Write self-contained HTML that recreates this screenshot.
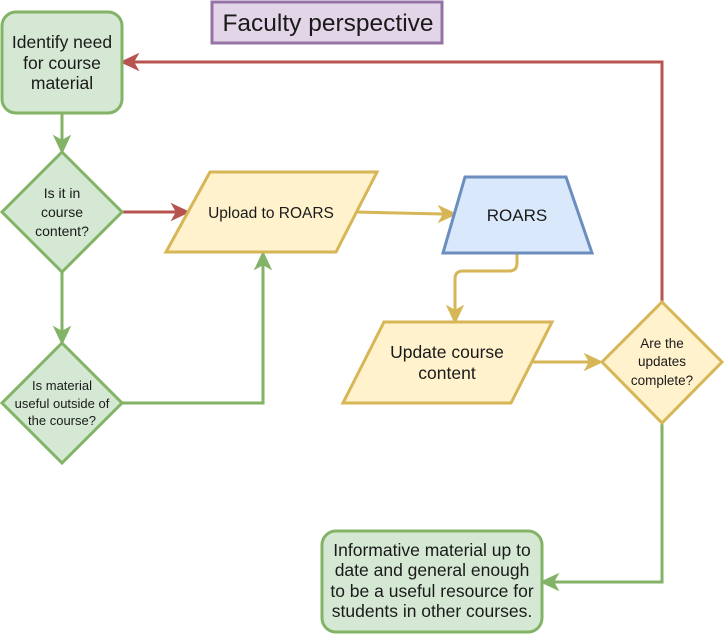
<!DOCTYPE html>
<html><head><style>body{margin:0;background:#fff}svg{display:block}text{font-family:"Liberation Sans",Arial,sans-serif;fill:#1a1a1a}</style></head>
<body>
<svg width="724" height="634" viewBox="0 0 724 634" xmlns="http://www.w3.org/2000/svg">
<g stroke-width="3" fill="none" stroke-linejoin="miter">
<path d="M62,113 V140" stroke="#82b366"/>
<path d="M62,272 V331" stroke="#82b366"/>
<path d="M122,403 H263 V265" stroke="#82b366"/>
<path d="M662,423 V582 H554" stroke="#82b366"/>
<path d="M122,212 H176" stroke="#b85450"/>
<path d="M662,302 V62 H134" stroke="#b85450"/>
<path d="M356,212 L443,214" stroke="#d6b656"/>
<path d="M517,253 V263 Q517,271 509,271 H463 Q455,271 455,279 V310" stroke="#d6b656"/>
<path d="M531,362 H589" stroke="#d6b656"/>
</g>
<g>
<path d="M62,152 L55,137 L62,141 L69,137 Z" fill="#82b366" stroke="#82b366" stroke-width="2"/>
<path d="M62,343 L55,328 L62,332 L69,328 Z" fill="#82b366" stroke="#82b366" stroke-width="2"/>
<path d="M263,253 L256,268 L263,264 L270,268 Z" fill="#82b366" stroke="#82b366" stroke-width="2"/>
<path d="M542,582 L557,575 L553,582 L557,589 Z" fill="#82b366" stroke="#82b366" stroke-width="2"/>
<path d="M188,212 L173,205 L177,212 L173,219 Z" fill="#b85450" stroke="#b85450" stroke-width="2"/>
<path d="M122,62 L137,55 L133,62 L137,69 Z" fill="#b85450" stroke="#b85450" stroke-width="2"/>
<path d="M455,214 L440,207 L444,214 L440,221 Z" fill="#d6b656" stroke="#d6b656" stroke-width="2"/>
<path d="M455,322 L448,307 L455,311 L462,307 Z" fill="#d6b656" stroke="#d6b656" stroke-width="2"/>
<path d="M601,362 L586,355 L590,362 L586,369 Z" fill="#d6b656" stroke="#d6b656" stroke-width="2"/>
</g>
<rect x="212" y="2" width="230" height="41" fill="#e1d5e7" stroke="#9673a6" stroke-width="3"/>
<text x="328" y="31" font-size="24.5" text-anchor="middle">Faculty perspective</text>

<rect x="2" y="12" width="120" height="101" rx="14" fill="#d5e8d4" stroke="#82b366" stroke-width="3"/>
<text font-size="17.5" text-anchor="middle"><tspan x="62" y="48">Identify need</tspan><tspan x="62" y="69">for course</tspan><tspan x="62" y="89">material</tspan></text>

<path d="M62,152 L122,212 L62,272 L2,212 Z" fill="#d5e8d4" stroke="#82b366" stroke-width="3"/>
<text font-size="14" text-anchor="middle"><tspan x="62" y="198">Is it in</tspan><tspan x="62" y="217">course</tspan><tspan x="62" y="236">content?</tspan></text>

<path d="M62,343 L122,403 L62,463 L2,403 Z" fill="#d5e8d4" stroke="#82b366" stroke-width="3"/>
<text font-size="13" text-anchor="middle"><tspan x="62" y="390">Is material</tspan><tspan x="62" y="408">useful outside of</tspan><tspan x="62" y="425">the course?</tspan></text>

<path d="M210,172 L377,172 L336,252 L166,252 Z" fill="#fff2cc" stroke="#d6b656" stroke-width="3"/>
<text x="271" y="218" font-size="15.5" text-anchor="middle">Upload to ROARS</text>

<path d="M465,177 L566,177 L592,253 L443,253 Z" fill="#dae8fc" stroke="#6c8ebf" stroke-width="3"/>
<text x="517" y="221" font-size="17" text-anchor="middle">ROARS</text>

<path d="M384,322 L552,322 L511,403 L343,403 Z" fill="#fff2cc" stroke="#d6b656" stroke-width="3"/>
<text font-size="17.5" text-anchor="middle"><tspan x="447" y="358">Update course</tspan><tspan x="447" y="379">content</tspan></text>

<path d="M662,302 L722,362 L662,423 L602,362 Z" fill="#fff2cc" stroke="#d6b656" stroke-width="3"/>
<text font-size="13.5" text-anchor="middle"><tspan x="662" y="348">Are the</tspan><tspan x="662" y="366">updates</tspan><tspan x="662" y="385">complete?</tspan></text>

<rect x="322" y="531" width="220" height="101" rx="14" fill="#d5e8d4" stroke="#82b366" stroke-width="3"/>
<text font-size="17.5" text-anchor="middle"><tspan x="432" y="556">Informative material up to</tspan><tspan x="432" y="576">date and general enough</tspan><tspan x="432" y="597">to be a useful resource for</tspan><tspan x="432" y="617">students in other courses.</tspan></text>
</svg>
</body></html>
